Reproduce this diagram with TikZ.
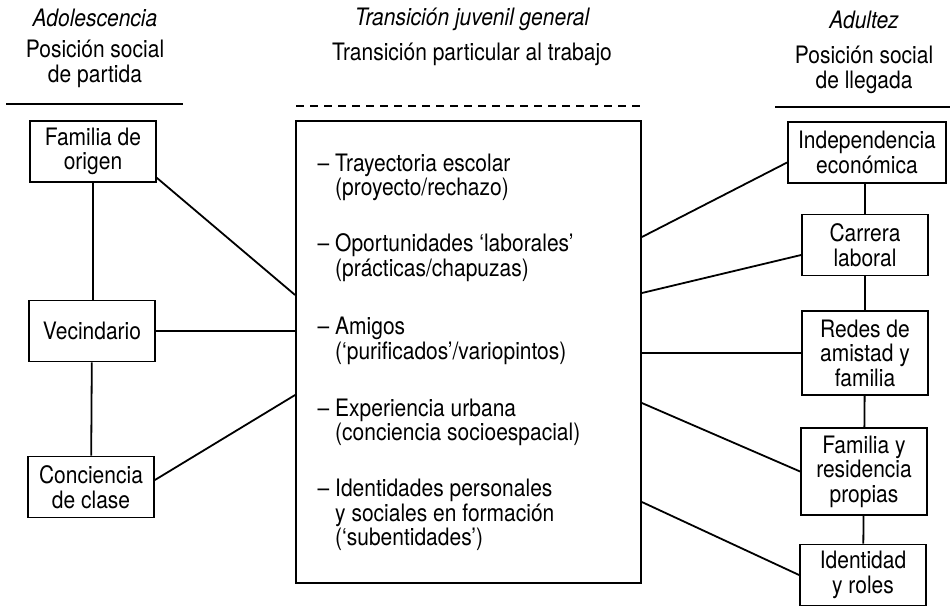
\documentclass[tikz,border=0pt]{standalone}
\usepackage{fontspec}
\setmainfont{TeX Gyre Heros}[FakeStretch=0.875]
\tikzset{
  box/.style={draw,line width=1.8pt,align=center,minimum width=126pt,minimum height=61pt,inner sep=5pt},
  item/.style={anchor=west,align=left,inner sep=0pt},
  head/.style={align=center,inner sep=0pt},
  link/.style={line width=1.8pt}
}

\begin{document}
\begin{tikzpicture}[x=1pt,y=-1pt,every node/.style={font=\fontsize{24}{24.5}\selectfont}]
  \useasboundingbox (0,0) rectangle (950,606);
  % headings
  \node[head,font=\fontsize{24}{24.5}\selectfont\itshape] (hadol) at (95,18) {Adolescencia};
  \node[head] (hpart) at (95,64) {Posición social\\de partida};
  \node[head,font=\fontsize{24}{24.5}\selectfont\itshape] (htrans) at (472,19) {Transición juvenil general};
  \node[head] (htrab) at (472,54) {Transición particular al trabajo};
  \node[head,font=\fontsize{24}{24.5}\selectfont\itshape] (hadul) at (864,20) {Adultez};
  \node[head] (hlleg) at (864,70) {Posición social\\de llegada};
  \draw[line width=1.5pt] (6,104) -- (183,104);
  \draw[line width=1.5pt,dash pattern=on 8pt off 6pt] (296,106) -- (641,106);
  \draw[line width=1.5pt] (775,107) -- (950,107);
  % left column
  \node[box] (fam) at (93,151.5) {Familia de\\origen};
  \node[box] (vec) at (92,331) {Vecindario};
  \node[box] (con) at (91,487) {Conciencia\\de clase};
  % centre
  \node[draw,line width=1.8pt,minimum width=345pt,minimum height=462pt,inner sep=0pt] (mid) at (468.5,352) {};
  \node[item] (tray) at (335,177.5) {\llap{– }Trayectoria escolar\\(proyecto/rechazo)};
  \node[item] (opor) at (335,257.5) {\llap{– }Oportunidades ‘laborales’\\(prácticas/chapuzas)};
  \node[item] (amig) at (335,341) {\llap{– }Amigos\\(‘purificados’/variopintos)};
  \node[item] (expe) at (335,422.5) {\llap{– }Experiencia urbana\\(conciencia socioespacial)};
  \node[item] (iden) at (335,515) {\llap{– }Identidades personales\\y sociales en formación\\(‘subentidades’)};
  % right column
  \node[box,minimum width=158pt] (ind) at (867,152.5) {Independencia\\económica};
  \node[box] (car) at (865,245) {Carrera\\laboral};
  \node[box,minimum height=84pt] (red) at (865,353) {Redes de\\amistad y\\familia};
  \node[box,minimum height=87pt] (res) at (864,471.5) {Familia y\\residencia\\propias};
  \node[box] (rol) at (863,575) {Identidad\\y roles};
  % links
  \draw[link] (fam.south) -- (vec.north -| fam.south);
  \draw[link] (vec) -- (con);
  \draw[link] ([yshift=5pt]fam.south east) -- (mid.west |- 0,295);
  \draw[link] (vec.east) -- (mid.west |- vec.east);
  \draw[link] ([yshift=7pt]con.east) -- (mid.west |- 0,395);
  \draw[link] (ind.south -| car.north) -- (car.north);
  \draw[link] (car) -- (red);
  \draw[link] (red) -- (res);
  \draw[link] (res) -- (rol);
  \draw[link] (mid.east |- 0,237) -- ([yshift=-10pt]ind.west);
  \draw[link] (mid.east |- 0,293) -- ([yshift=-10pt]car.west);
  \draw[link] (mid.east |- red.west) -- (red.west);
  \draw[link] (mid.east |- 0,403) -- (res.west);
  \draw[link] (mid.east |- 0,502) -- (rol.west);
\end{tikzpicture}
\end{document}
